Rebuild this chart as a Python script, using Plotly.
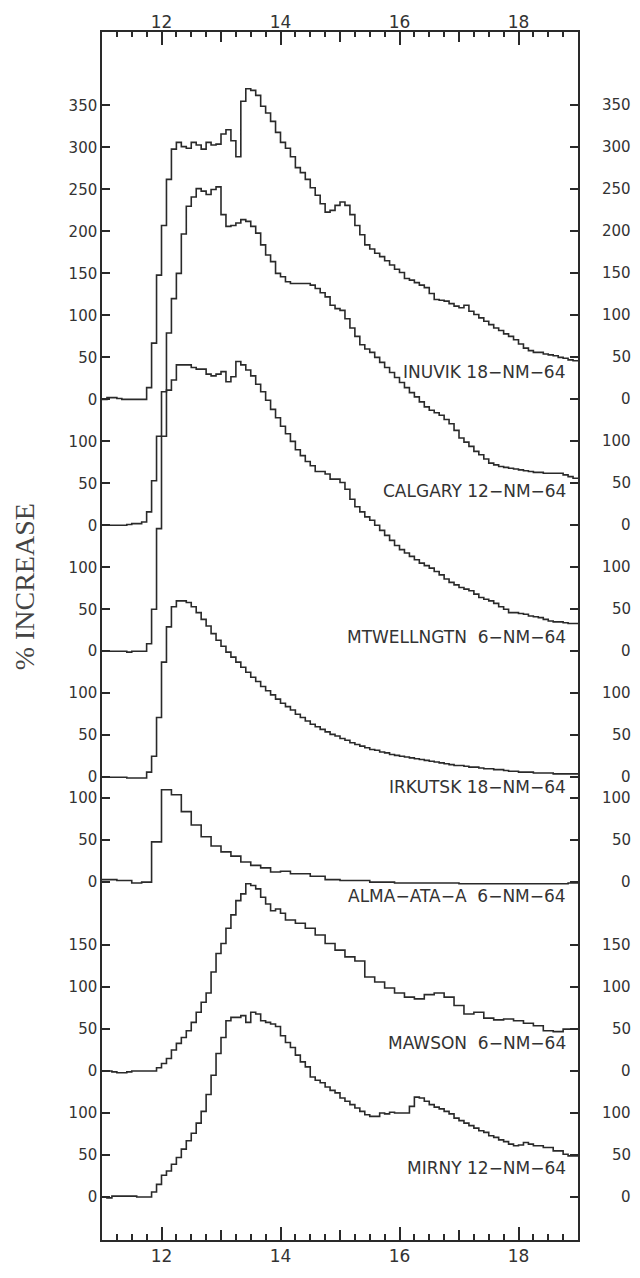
import numpy as np
import plotly.graph_objects as go

# ---------------- data (values in % increase, 5-minute bins from 11.0 UT) ----------------
START_UT = 11.0
BIN_MIN = 5
STATIONS = ["INUVIK 18−NM−64", "CALGARY 12−NM−64", "MTWELLNGTN  6−NM−64",
            "IRKUTSK 18−NM−64", "ALMA−ATA−A  6−NM−64", "MAWSON  6−NM−64", "MIRNY 12−NM−64"]

INUVIK = [0, 2, 2, 1, 0, 0, 0, 0, 0,
          14, 67, 148, 207, 262, 298,
          306, 301, 299, 306, 303, 298, 306, 303, 304, 316, 321, 308, 289,
          355, 370, 368, 362, 349, 341, 331, 318, 306, 299, 289, 276, 270, 262, 252, 243, 233, 223, 225, 231,
          235, 231, 220, 207, 196, 184, 179, 174, 170, 165, 160, 155,
          151, 144, 142, 139, 136, 133, 126, 119, 118, 117, 114, 111, 109, 112, 105, 101, 97, 93, 89, 85,
          82, 78, 75, 71, 66, 61, 58, 56, 56, 54, 53, 52, 50, 49, 47, 46]
CALGARY = [0, 0, 0, 0, 0, 1, 2, 2,
           4, 16, 53, 106, 159, 229, 270,
           300, 347, 380, 391, 401, 398, 394, 400, 403,
           370, 356, 357, 360, 364, 362, 356, 348, 334, 322, 314, 300,
           296, 290, 288, 288, 288, 288, 286, 282, 277, 272, 262, 258, 256, 246, 235, 225, 215, 210, 206, 200,
           194, 188, 182, 176, 170, 164, 158, 153, 147, 141, 137, 134, 131, 126, 121, 113, 104, 99, 94, 88,
           84, 79, 74, 72, 70, 69, 68, 67, 66, 65, 64, 63, 63, 62, 62, 62, 62, 60, 58, 56]
MTWELLNGTN = [0, 0, 0, 0, 0, -1, 0, 0, 0,
              9, 50, 146, 256, 311, 323,
              341, 341, 341, 338, 336, 336, 330, 328, 330,
              333, 321, 327, 345, 341, 335, 328, 318, 309, 299, 288, 278, 268, 259, 250, 240, 233, 226, 221,
              214, 214, 211, 205, 205, 201, 193,
              181, 172, 166, 160, 156, 150, 144, 138, 132, 126, 121, 117, 113, 109, 105, 102, 99, 95, 91, 86,
              82, 79, 76, 74, 72, 68, 64, 62, 60, 57, 53, 50, 46, 46, 45, 44, 42, 41, 40, 38, 36, 35, 35, 34, 33, 33]
IRKUTSK = [0, 0, 0, 0, 0, -1, -1, -1, -1,
           6, 25, 71, 137, 179, 203,
           210, 210, 208, 203, 196, 188, 180, 171, 163, 156, 149, 143, 137, 131, 125, 119, 114, 108, 103, 98, 93, 88,
           84, 80, 75, 71, 67, 63, 60, 57, 54, 51, 49, 46, 44, 41, 39, 37, 35, 33, 32, 30, 29, 27, 26, 25,
           24, 23, 22, 21, 20, 19, 18, 17, 16, 15, 14, 14, 13, 12, 12, 11, 10, 10, 9, 9, 8, 7, 7, 6, 6, 6,
           5, 5, 5, 5, 4, 4, 4, 4, 4]
ALMA_ATA = [3, 3, 3, 2, 2, 2, -1, -1, 0, 0,
            48, 48, 110, 110, 104, 104, 84, 84, 68, 68, 54, 54, 43, 43, 36, 36, 31, 31, 24, 24, 20, 20,
            17, 17, 12, 12, 13, 13, 10, 10, 10, 10, 7, 7, 7, 3, 3, 3, 2, 2, 2, 2, 2, 2, 0, 0, 0, 0, 0,
            -1, -1, -1, -1, -1, -1, -1, -1, -1, -1, -1, -1, -1,
            -2, -2, -2, -2, -2, -2, -2, -2, -2, -2, -2, -2, -2, -2, -2, -2, -2, -2, -2, -2, -2, -2, -1, -1]
MAWSON = [0, 0, -1, -2, -2, -1, 0, 0, 0, 0, 0,
          4, 9, 15, 25, 33, 40, 48, 58, 70, 82, 93, 118,
          140, 152, 170, 186, 203, 211, 223, 221, 217, 207, 199, 191, 193, 188,
          180, 180, 176, 176, 170, 170, 162, 162, 152, 152, 144, 144, 136, 136, 131, 131, 112, 112, 106, 106,
          99, 99, 93, 93, 88, 88, 86, 86, 91, 91, 93, 93, 88, 88, 78, 78, 68, 68, 70, 70, 63, 63, 61, 61,
          62, 62, 60, 60, 57, 57, 54, 54, 48, 48, 47, 47, 50, 50, 50]
MIRNY = [0, -1, 1, 1, 1, 1, 1, 0, 0, 0,
         6, 15, 26, 31, 39, 47, 57, 67, 76, 88, 102, 122, 145, 171, 190,
         210, 214, 214, 216, 208, 220, 218, 210, 208, 206, 203, 192, 184, 178, 169, 161, 155, 143, 139, 136,
         131, 127, 124, 118, 114, 110, 106, 102, 98, 96, 96,
         100, 99, 101, 100, 100, 100, 108, 119, 118, 114, 110, 107, 105, 102, 99, 94, 91, 88, 85, 82,
         79, 77, 73, 71, 68, 66, 63, 61, 62, 65, 63, 61, 61, 59, 59, 55, 55, 51, 49, 49]

SERIES = [INUVIK, CALGARY, MTWELLNGTN, IRKUTSK, ALMA_ATA, MAWSON, MIRNY]
TICKS = [[0, 50, 100, 150, 200, 250, 300, 350], [0, 50, 100], [0, 50, 100], [0, 50, 100],
         [0, 50, 100], [0, 50, 100, 150], [0, 50, 100]]
X_MAJOR = [12, 14, 16, 18]
X_ODD = [13, 15, 17]
X_MINOR_STEP = 0.25

# ---------------- layout (stack offsets in % units, label placement) ----------------
BASELINE = [950, 800, 650, 500, 375, 150, 0]
LABEL_DY = [32, 41, 17, -12, -17, 34, 34]
YRANGE = [-51.2, 1387.5]
XRANGE = [11, 19]
INK = "#2a2a2a"
FONT = "DejaVu Sans"

fig = go.Figure()
for vals, base in zip(SERIES, BASELINE):
    assert len(vals) == 96
    n = len(vals)
    t = START_UT + np.arange(n + 1) * BIN_MIN / 60.0
    y = np.array(list(vals) + [vals[-1]], dtype=float) + base
    fig.add_trace(go.Scatter(x=t, y=y, mode="lines", line=dict(color=INK, width=1.6, shape="hv"),
                             showlegend=False, hoverinfo="skip"))

# helper traces so that the extra tick axes render
for xa in ["x2", "x3", "x4", "x5", "x6"]:
    fig.add_trace(go.Scatter(x=[None], y=[None], xaxis=xa, yaxis="y", showlegend=False,
                             hoverinfo="skip", mode="lines"))

tickvals, ticktext = [], []
for base, tks in zip(BASELINE, TICKS):
    for v in tks:
        tickvals.append(base + v)
        ticktext.append(str(v))

minor_vals = [float(v) for v in np.arange(XRANGE[0], XRANGE[1] + 1e-9, X_MINOR_STEP)
              if abs(v - round(v)) > 1e-6]

common_x = dict(range=XRANGE, showgrid=False, zeroline=False, ticks="inside",
                tickcolor=INK, tickwidth=1.5, linecolor=INK)

fig.update_layout(
    width=640, height=1278,
    margin=dict(l=102, r=62, t=30, b=28),
    paper_bgcolor="white", plot_bgcolor="white",
    showlegend=False,
    font=dict(family=FONT, color="#333"),
    xaxis=dict(**common_x, tickvals=X_MAJOR, ticklen=13, showline=True, linewidth=1.5, mirror=True,
               tickfont=dict(size=17, family=FONT, color="#333")),
    xaxis2=dict(**common_x, overlaying="x", side="top", anchor="y", tickvals=X_MAJOR, ticklen=13,
                showline=False, tickfont=dict(size=17, family=FONT, color="#333")),
    xaxis3=dict(**common_x, overlaying="x", side="bottom", anchor="y", tickvals=X_ODD, ticklen=10,
                showline=False, showticklabels=False),
    xaxis4=dict(**common_x, overlaying="x", side="top", anchor="y", tickvals=X_ODD, ticklen=10,
                showline=False, showticklabels=False),
    xaxis5=dict(**common_x, overlaying="x", side="bottom", anchor="y", tickvals=minor_vals, ticklen=6,
                showline=False, showticklabels=False),
    xaxis6=dict(**common_x, overlaying="x", side="top", anchor="y", tickvals=minor_vals, ticklen=5,
                showline=False, showticklabels=False),
    yaxis=dict(range=YRANGE, tickvals=tickvals, ticktext=ticktext, ticks="inside", ticklen=8,
               tickwidth=1.5, tickcolor=INK, showline=True, linewidth=1.5, linecolor=INK,
               mirror="ticks", showgrid=False, zeroline=False,
               tickfont=dict(size=15, family=FONT, color="#333")),
)

# right-hand tick labels (right-aligned, as in the original)
for v, txt in zip(tickvals, ticktext):
    fig.add_annotation(x=1.1155, xref="paper", y=v, yref="y", text=txt, showarrow=False,
                       xanchor="right", yanchor="middle", font=dict(size=15, family=FONT, color="#333"))

# station labels
for name, base, dy in zip(STATIONS, BASELINE, LABEL_DY):
    fig.add_annotation(x=18.83, xref="x", y=base + dy, yref="y", text=name, showarrow=False,
                       xanchor="right", yanchor="middle", font=dict(size=17, family=FONT, color="#333"))

fig.add_annotation(x=-0.162, xref="paper", y=0.541, yref="paper", text="% INCREASE", textangle=-90,
                   showarrow=False, xanchor="center", yanchor="middle",
                   font=dict(size=28, family="Liberation Serif", color="#444"))

fig.write_html("out.html")
